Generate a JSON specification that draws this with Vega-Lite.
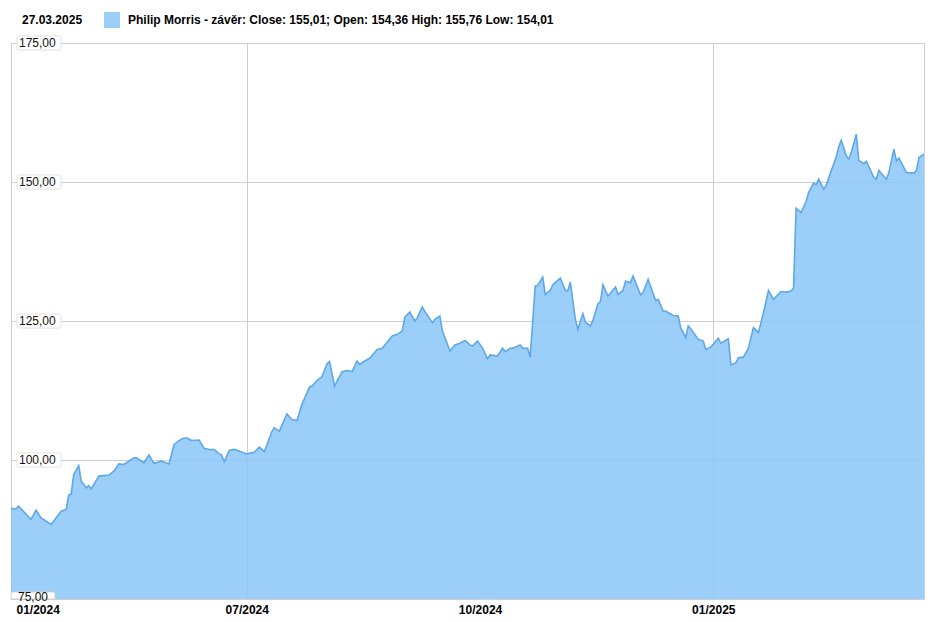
{
  "$schema": "https://vega.github.io/schema/vega-lite/v6.json",
  "width": 913,
  "height": 556,
  "autosize": {"type": "none"},
  "padding": {"left": 11, "top": 43, "right": 10, "bottom": 23},
  "background": "white",
  "config": {"view": {"stroke": "#cfcfcf", "strokeWidth": 1}, "font": "Liberation Sans"},
  "datasets": {
    "prices": [
      {"date": "2024-03-28", "close": 91.3}, {"date": "2024-03-30", "close": 91.2}, {"date": "2024-03-31", "close": 91.7},
      {"date": "2024-04-05", "close": 89.3}, {"date": "2024-04-07", "close": 91.0}, {"date": "2024-04-09", "close": 89.6},
      {"date": "2024-04-13", "close": 88.4}, {"date": "2024-04-17", "close": 90.8}, {"date": "2024-04-19", "close": 91.1},
      {"date": "2024-04-20", "close": 93.7}, {"date": "2024-04-21", "close": 93.9}, {"date": "2024-04-22", "close": 97.4},
      {"date": "2024-04-24", "close": 99.0}, {"date": "2024-04-25", "close": 96.2}, {"date": "2024-04-27", "close": 95.0},
      {"date": "2024-04-28", "close": 95.4}, {"date": "2024-04-29", "close": 94.8}, {"date": "2024-05-02", "close": 97.1},
      {"date": "2024-05-06", "close": 97.3}, {"date": "2024-05-08", "close": 98.0}, {"date": "2024-05-10", "close": 99.3},
      {"date": "2024-05-12", "close": 99.2}, {"date": "2024-05-16", "close": 100.4}, {"date": "2024-05-17", "close": 100.4},
      {"date": "2024-05-20", "close": 99.5}, {"date": "2024-05-22", "close": 100.9}, {"date": "2024-05-24", "close": 99.4},
      {"date": "2024-05-27", "close": 99.8}, {"date": "2024-05-30", "close": 99.3}, {"date": "2024-06-01", "close": 102.8},
      {"date": "2024-06-04", "close": 103.8}, {"date": "2024-06-06", "close": 104.0}, {"date": "2024-06-08", "close": 103.5},
      {"date": "2024-06-11", "close": 103.6}, {"date": "2024-06-13", "close": 102.1}, {"date": "2024-06-15", "close": 101.9},
      {"date": "2024-06-17", "close": 101.9}, {"date": "2024-06-19", "close": 101.1}, {"date": "2024-06-20", "close": 100.9},
      {"date": "2024-06-21", "close": 99.7}, {"date": "2024-06-23", "close": 101.7}, {"date": "2024-06-25", "close": 101.9},
      {"date": "2024-06-27", "close": 101.6}, {"date": "2024-06-29", "close": 101.2}, {"date": "2024-06-30", "close": 101.1},
      {"date": "2024-07-03", "close": 101.4}, {"date": "2024-07-05", "close": 102.3}, {"date": "2024-07-07", "close": 101.5},
      {"date": "2024-07-10", "close": 105.1}, {"date": "2024-07-11", "close": 105.8}, {"date": "2024-07-13", "close": 105.2},
      {"date": "2024-07-16", "close": 108.3}, {"date": "2024-07-18", "close": 107.3}, {"date": "2024-07-20", "close": 107.1},
      {"date": "2024-07-22", "close": 110.0}, {"date": "2024-07-25", "close": 113.1}, {"date": "2024-07-26", "close": 113.3},
      {"date": "2024-07-28", "close": 114.3}, {"date": "2024-07-30", "close": 115.0}, {"date": "2024-08-01", "close": 117.3},
      {"date": "2024-08-02", "close": 117.7}, {"date": "2024-08-04", "close": 113.3}, {"date": "2024-08-05", "close": 114.2},
      {"date": "2024-08-07", "close": 115.9}, {"date": "2024-08-09", "close": 116.1}, {"date": "2024-08-11", "close": 115.9},
      {"date": "2024-08-13", "close": 117.8}, {"date": "2024-08-14", "close": 117.2}, {"date": "2024-08-16", "close": 117.8},
      {"date": "2024-08-18", "close": 118.3}, {"date": "2024-08-21", "close": 119.9}, {"date": "2024-08-23", "close": 120.1},
      {"date": "2024-08-27", "close": 122.3}, {"date": "2024-08-29", "close": 122.6}, {"date": "2024-08-31", "close": 123.2},
      {"date": "2024-09-01", "close": 125.7}, {"date": "2024-09-03", "close": 126.6}, {"date": "2024-09-05", "close": 125.0},
      {"date": "2024-09-06", "close": 125.6}, {"date": "2024-09-08", "close": 127.5}, {"date": "2024-09-09", "close": 126.7},
      {"date": "2024-09-12", "close": 124.7}, {"date": "2024-09-13", "close": 125.3}, {"date": "2024-09-15", "close": 125.9},
      {"date": "2024-09-16", "close": 123.2}, {"date": "2024-09-19", "close": 119.6}, {"date": "2024-09-21", "close": 120.7},
      {"date": "2024-09-23", "close": 121.0}, {"date": "2024-09-25", "close": 121.5}, {"date": "2024-09-27", "close": 120.7},
      {"date": "2024-09-28", "close": 120.5}, {"date": "2024-09-30", "close": 121.4}, {"date": "2024-10-02", "close": 120.1},
      {"date": "2024-10-04", "close": 118.2}, {"date": "2024-10-05", "close": 118.9}, {"date": "2024-10-08", "close": 118.7},
      {"date": "2024-10-10", "close": 120.1}, {"date": "2024-10-11", "close": 119.5}, {"date": "2024-10-13", "close": 120.1},
      {"date": "2024-10-14", "close": 120.1}, {"date": "2024-10-17", "close": 120.7}, {"date": "2024-10-18", "close": 120.1},
      {"date": "2024-10-20", "close": 120.1}, {"date": "2024-10-21", "close": 118.5}, {"date": "2024-10-23", "close": 131.3},
      {"date": "2024-10-24", "close": 131.4}, {"date": "2024-10-26", "close": 132.9}, {"date": "2024-10-27", "close": 129.8},
      {"date": "2024-10-29", "close": 130.5}, {"date": "2024-10-30", "close": 131.5}, {"date": "2024-11-02", "close": 132.7},
      {"date": "2024-11-04", "close": 130.5}, {"date": "2024-11-05", "close": 130.4}, {"date": "2024-11-06", "close": 132.0},
      {"date": "2024-11-08", "close": 125.3}, {"date": "2024-11-09", "close": 123.5}, {"date": "2024-11-11", "close": 126.3},
      {"date": "2024-11-12", "close": 124.8}, {"date": "2024-11-14", "close": 124.1}, {"date": "2024-11-15", "close": 125.1},
      {"date": "2024-11-17", "close": 128.1}, {"date": "2024-11-18", "close": 128.5}, {"date": "2024-11-19", "close": 131.5},
      {"date": "2024-11-21", "close": 129.5}, {"date": "2024-11-24", "close": 131.1}, {"date": "2024-11-25", "close": 129.8},
      {"date": "2024-11-27", "close": 130.5}, {"date": "2024-11-28", "close": 132.2}, {"date": "2024-11-30", "close": 131.9},
      {"date": "2024-12-01", "close": 133.1}, {"date": "2024-12-04", "close": 129.7}, {"date": "2024-12-05", "close": 130.1},
      {"date": "2024-12-07", "close": 132.5}, {"date": "2024-12-10", "close": 128.7}, {"date": "2024-12-11", "close": 128.9},
      {"date": "2024-12-13", "close": 126.8}, {"date": "2024-12-14", "close": 126.8}, {"date": "2024-12-17", "close": 126.0},
      {"date": "2024-12-19", "close": 125.9}, {"date": "2024-12-20", "close": 123.8}, {"date": "2024-12-22", "close": 122.0},
      {"date": "2024-12-23", "close": 124.1}, {"date": "2024-12-24", "close": 123.6}, {"date": "2024-12-27", "close": 121.7},
      {"date": "2024-12-29", "close": 121.4}, {"date": "2024-12-30", "close": 119.9}, {"date": "2025-01-01", "close": 120.3},
      {"date": "2025-01-04", "close": 121.9}, {"date": "2025-01-05", "close": 121.0}, {"date": "2025-01-08", "close": 121.8},
      {"date": "2025-01-09", "close": 117.1}, {"date": "2025-01-11", "close": 117.5}, {"date": "2025-01-12", "close": 118.4},
      {"date": "2025-01-14", "close": 118.5}, {"date": "2025-01-16", "close": 120.1}, {"date": "2025-01-18", "close": 123.8},
      {"date": "2025-01-20", "close": 122.9}, {"date": "2025-01-22", "close": 126.5}, {"date": "2025-01-24", "close": 130.5},
      {"date": "2025-01-26", "close": 128.9}, {"date": "2025-01-29", "close": 130.3}, {"date": "2025-01-31", "close": 130.2},
      {"date": "2025-02-02", "close": 130.4}, {"date": "2025-02-03", "close": 130.9}, {"date": "2025-02-04", "close": 145.3},
      {"date": "2025-02-06", "close": 144.5}, {"date": "2025-02-08", "close": 146.5}, {"date": "2025-02-09", "close": 148.1},
      {"date": "2025-02-11", "close": 149.8}, {"date": "2025-02-12", "close": 149.5}, {"date": "2025-02-13", "close": 150.5},
      {"date": "2025-02-15", "close": 148.7}, {"date": "2025-02-16", "close": 149.4}, {"date": "2025-02-18", "close": 152.0},
      {"date": "2025-02-20", "close": 154.5}, {"date": "2025-02-21", "close": 156.3}, {"date": "2025-02-22", "close": 157.5},
      {"date": "2025-02-24", "close": 154.7}, {"date": "2025-02-25", "close": 154.1}, {"date": "2025-02-26", "close": 155.3},
      {"date": "2025-02-28", "close": 158.6}, {"date": "2025-03-01", "close": 153.9}, {"date": "2025-03-03", "close": 153.3},
      {"date": "2025-03-04", "close": 153.7}, {"date": "2025-03-07", "close": 150.8}, {"date": "2025-03-08", "close": 150.5},
      {"date": "2025-03-09", "close": 152.1}, {"date": "2025-03-12", "close": 150.5}, {"date": "2025-03-13", "close": 151.7},
      {"date": "2025-03-15", "close": 155.9}, {"date": "2025-03-16", "close": 153.8}, {"date": "2025-03-17", "close": 154.3},
      {"date": "2025-03-20", "close": 151.7}, {"date": "2025-03-23", "close": 151.6}, {"date": "2025-03-24", "close": 152.1},
      {"date": "2025-03-25", "close": 154.4}, {"date": "2025-03-27", "close": 155.01}
    ],
    "ticks": [
      {"v": 75, "label": "75,00"},
      {"v": 100, "label": "100,00"},
      {"v": 125, "label": "125,00"},
      {"v": 150, "label": "150,00"},
      {"v": 175, "label": "175,00"}
    ]
  },
  "layer": [
    {
      "data": {"name": "prices"},
      "mark": {"type": "area", "opacity": 0.85, "clip": true},
      "encoding": {
        "x": {
          "field": "date",
          "type": "temporal",
          "scale": {"type": "utc", "domain": [{"year": 2024, "month": 3, "date": 28, "utc": true}, {"year": 2025, "month": 3, "date": 27, "utc": true}]},
          "axis": {
            "values": [
              {"year": 2024, "month": 3, "date": 28, "utc": true},
              {"year": 2024, "month": 6, "date": 30, "utc": true},
              {"year": 2024, "month": 10, "date": 1, "utc": true},
              {"year": 2025, "month": 1, "date": 2, "utc": true}
            ],
            "labelExpr": "utcmonth(datum.value) == 2 ? '01/2024' : utcmonth(datum.value) == 5 ? '07/2024' : utcFormat(datum.value, '%m/%Y')",
            "title": null,
            "ticks": false,
            "tickSize": 0,
            "domain": false,
            "labelPadding": 5,
            "labelFont": "Liberation Sans",
            "labelFontSize": 12,
            "labelFontWeight": "bold",
            "labelColor": "#000000",
            "labelFlush": true,
            "labelFlushOffset": -5,
            "labelOverlap": false,
            "grid": true,
            "gridColor": "#cfcfcf",
            "gridOpacity": {"condition": {"test": "utcmonth(datum.value) == 0 || utcmonth(datum.value) == 5", "value": 1}, "value": 0}
          }
        },
        "y": {
          "field": "close",
          "type": "quantitative",
          "scale": {"domain": [75, 175], "nice": false, "zero": false},
          "axis": {"values": [75, 100, 125, 150, 175], "labels": false, "ticks": false, "domain": false, "title": null, "grid": true, "gridColor": "#cfcfcf"}
        },
        "color": {
          "datum": "Philip Morris - závěr: Close: 155,01; Open: 154,36 High: 155,76 Low: 154,01",
          "type": "nominal",
          "scale": {"range": ["#89C6F7"]},
          "legend": {
            "title": "27.03.2025",
            "orient": "none",
            "legendX": 11,
            "legendY": -31,
            "padding": 0,
            "titleOrient": "left",
            "titleFont": "Liberation Sans",
            "titleFontSize": 12,
            "titleFontWeight": "bold",
            "titleColor": "#000000",
            "titlePadding": 21,
            "titleBaseline": "middle",
            "symbolType": "square",
            "symbolSize": 256,
            "symbolStrokeWidth": 0,
            "labelFont": "Liberation Sans",
            "labelFontSize": 12,
            "labelFontWeight": "bold",
            "labelColor": "#000000",
            "labelOffset": 8,
            "labelLimit": 0
          }
        }
      }
    },
    {
      "data": {"name": "prices"},
      "mark": {"type": "line", "color": "#5EA8E8", "strokeWidth": 1.6, "clip": true},
      "encoding": {
        "x": {"field": "date", "type": "temporal"},
        "y": {"field": "close", "type": "quantitative"}
      }
    },
    {
      "data": {"name": "ticks"},
      "transform": [{"filter": "datum.v > 75"}],
      "mark": {"type": "point", "shape": "M-0.92,-0.32L0.92,-0.32Q1,-0.32 1,-0.24L1,0.24Q1,0.32 0.92,0.32L-0.92,0.32Q-1,0.32 -1,0.24L-1,-0.24Q-1,-0.32 -0.92,-0.32Z", "size": 1936, "filled": true, "fill": "#ffffff", "stroke": "#e2e2e2", "strokeWidth": 1, "opacity": 1, "xOffset": 28},
      "encoding": {
        "x": {"datum": {"year": 2024, "month": 3, "date": 28, "utc": true}, "type": "temporal"},
        "y": {"field": "v", "type": "quantitative"}
      }
    },
    {
      "data": {"name": "ticks"},
      "transform": [{"filter": "datum.v == 75"}],
      "mark": {"type": "point", "shape": "M-0.92,-0.32L0.92,-0.32Q1,-0.32 1,-0.24L1,0L-1,0L-1,-0.24Q-1,-0.32 -0.92,-0.32Z", "size": 1936, "filled": true, "fill": "#ffffff", "stroke": "#d0d0d0", "strokeWidth": 1, "opacity": 1, "xOffset": 22},
      "encoding": {
        "x": {"datum": {"year": 2024, "month": 3, "date": 28, "utc": true}, "type": "temporal"},
        "y": {"field": "v", "type": "quantitative"}
      }
    },
    {
      "data": {"name": "ticks"},
      "transform": [{"filter": "datum.v > 75"}],
      "mark": {"type": "text", "align": "left", "baseline": "middle", "dx": 8, "font": "Liberation Sans", "fontSize": 12, "color": "#111111"},
      "encoding": {
        "x": {"datum": {"year": 2024, "month": 3, "date": 28, "utc": true}, "type": "temporal"},
        "y": {"field": "v", "type": "quantitative"},
        "text": {"field": "label"}
      }
    },
    {
      "data": {"name": "ticks"},
      "transform": [{"filter": "datum.v == 75"}],
      "mark": {"type": "text", "align": "left", "baseline": "alphabetic", "dx": 7, "dy": 2, "font": "Liberation Sans", "fontSize": 12, "color": "#111111"},
      "encoding": {
        "x": {"datum": {"year": 2024, "month": 3, "date": 28, "utc": true}, "type": "temporal"},
        "y": {"field": "v", "type": "quantitative"},
        "text": {"field": "label"}
      }
    }
  ]
}
